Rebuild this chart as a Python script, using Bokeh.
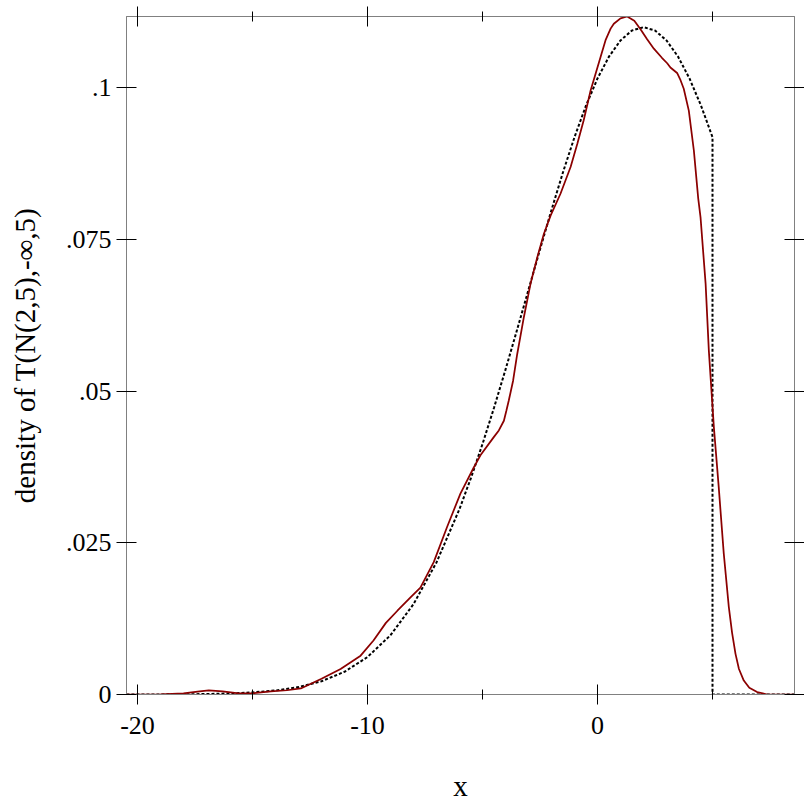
from bokeh.plotting import figure
from bokeh.models import Range1d, LinearAxis, FixedTicker, CustomLabelingPolicy
from bokeh.embed import file_html
from bokeh.resources import INLINE

# ---- data ----
exact_x = [-20.48, -19, -18, -17, -16, -15, -14, -13, -12, -11, -10, -9, -8, -7, -6,
           -5.5, -5, -4.5, -4, -3.5, -3, -2.5, -2, -1.5, -1, -0.5, 0, 0.5, 1, 1.5,
           2, 2.5, 3, 3.5, 4, 4.5, 5, 5, 8.565]
exact_y = [0.0000045, 0.000016, 0.000037, 0.00008, 0.000168, 0.00034, 0.00066, 0.00122,
           0.00218, 0.00374, 0.00617, 0.00977, 0.01488, 0.02176, 0.03056,
           0.0357, 0.04126, 0.04723, 0.05352, 0.06004, 0.06668, 0.07333, 0.07983,
           0.08605, 0.09183, 0.09702, 0.10149, 0.10510, 0.10776, 0.10939,
           0.10994, 0.10939, 0.10776, 0.10510, 0.10149, 0.09702, 0.09183, 0.0, 0.0]

kde_x = [-20.48, -19, -18, -17.3, -16.9, -16.3, -15.6, -15.0, -14.2, -13.5, -12.9,
         -12.0, -11.17, -10.3, -9.74, -9.2, -8.7, -8.13, -7.7, -7.12, -6.54, -5.96,
         -5.38, -5.09, -4.51, -4.29, -4.07, -3.96, -3.86, -3.67, -3.49, -3.2, -2.91,
         -2.62, -2.33, -2.04, -1.61, -1.17, -0.88, -0.6, -0.3, 0.13, 0.35, 0.57, 0.71,
         1.0, 1.29, 1.6, 1.87, 2.15, 2.45, 2.8, 3.03, 3.17, 3.46, 3.61, 3.75, 3.97,
         4.19, 4.38, 4.48, 4.7, 4.84, 5.06, 5.27, 5.49, 5.71, 5.85, 6.0, 6.15, 6.36,
         6.6, 6.94, 7.38, 8.565]
kde_y = [0.0, 0.00003, 0.0002, 0.0005, 0.00066, 0.0005, 0.0002, 0.0002, 0.0005,
         0.0007, 0.001, 0.0026, 0.0042, 0.0064, 0.0089, 0.0118, 0.0138, 0.016, 0.0176,
         0.0218, 0.0276, 0.0331, 0.0374, 0.0394, 0.0424, 0.0435, 0.0451, 0.0468,
         0.0484, 0.0517, 0.0561, 0.0622, 0.0677, 0.072, 0.0759, 0.0789, 0.0825,
         0.0869, 0.0907, 0.0946, 0.0995, 0.1050, 0.1078, 0.1097, 0.1105, 0.1114,
         0.1117, 0.1110, 0.1096, 0.1080, 0.1064, 0.1049, 0.1040, 0.1033, 0.1024,
         0.1012, 0.0998, 0.0962, 0.0896, 0.0817, 0.0786, 0.0677, 0.0567, 0.044,
         0.0342, 0.0232, 0.0144, 0.0102, 0.0067, 0.0042, 0.0023, 0.0011, 0.0004,
         0.0, 0.0]

x_major = [-20, -10, 0]
x_minor = [-15, -5, 5]
x_labels = {-20: "-20", -10: "-10", 0: "0"}
y_major = [0, 0.025, 0.05, 0.075, 0.1]
y_labels = {0: "0", 0.025: ".025", 0.05: ".05", 0.075: ".075", 0.1: ".1"}

FONT = "Liberation Serif"
GRAY = "#808080"

p = figure(width=804, height=804, output_backend="svg", toolbar_location=None,
           x_range=Range1d(-20.478, 8.565), y_range=Range1d(0, 0.1117),
           min_border_left=126, min_border_top=16, min_border_right=10,
           min_border_bottom=110)
p.xgrid.visible = False
p.ygrid.visible = False
p.outline_line_color = GRAY
p.background_fill_color = "white"
p.border_fill_color = "white"

p.line(exact_x, exact_y, line_color="black", line_width=2, line_dash="3 2")
p.line(kde_x, kde_y, line_color="#8b0000", line_width=1.75)

hide_all = CustomLabelingPolicy(code="""
    const n = indices.size
    for (let i = 0; i < n; i++) { indices.unset(i) }
    return indices
""")

def style(ax, xaxis, labels):
    if xaxis:
        ax.ticker = FixedTicker(ticks=x_major, minor_ticks=x_minor)
    else:
        ax.ticker = FixedTicker(ticks=y_major, minor_ticks=[])
    ax.axis_line_color = GRAY
    ax.major_tick_line_color = "black"
    ax.minor_tick_line_color = "black"
    ax.major_tick_in = 10
    ax.major_tick_out = 10
    ax.minor_tick_in = 5
    ax.minor_tick_out = 5
    ax.major_label_text_font = FONT
    ax.axis_label_text_font = FONT
    ax.axis_label_text_font_style = "normal"
    ax.axis_label_text_color = "black"
    ax.major_label_text_color = "black"
    if labels:
        ax.major_label_text_font_size = "26px"
        ax.axis_label_text_font_size = "29px"
    else:
        ax.major_label_text_font_size = "0px"
        ax.major_label_standoff = 0
        ax.major_label_policy = hide_all
        ax.axis_label = None

bx = p.xaxis[0]
style(bx, True, True)
bx.major_label_overrides = x_labels
bx.major_label_standoff = 12
bx.axis_label = "x"
bx.axis_label_standoff = 33

ly = p.yaxis[0]
style(ly, False, True)
ly.major_label_overrides = y_labels
ly.major_label_standoff = 5
ly.axis_label = "density of T(N(2,5),-∞,5)"
ly.axis_label_standoff = 22

top = LinearAxis()
style(top, True, False)
p.add_layout(top, "above")

right = LinearAxis()
style(right, False, False)
p.add_layout(right, "right")

open("out.html", "w").write(file_html(p, INLINE))
